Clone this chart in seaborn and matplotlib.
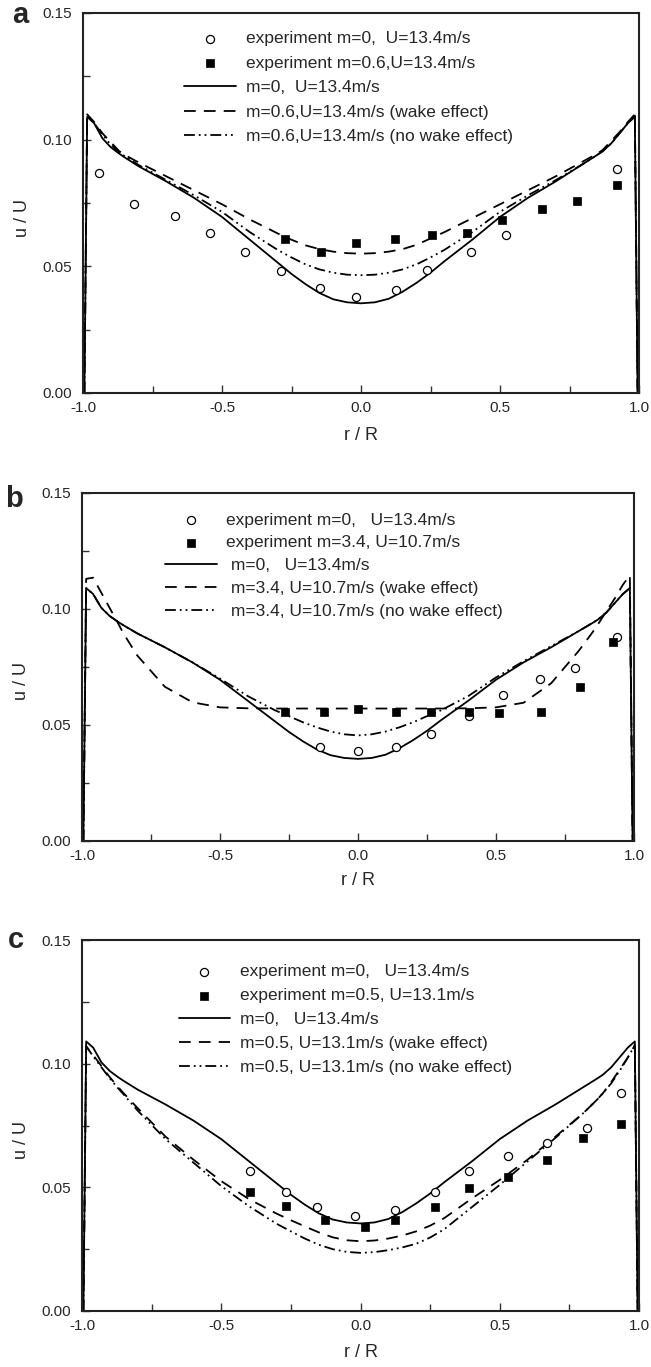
import matplotlib
matplotlib.use("Agg")
import matplotlib.pyplot as plt
import matplotlib.ticker as mtick
import seaborn as sns

# ── data ────────────────────────────────────────────────────────────────────

# common radial grid for the model curves (vertical drop at both walls)
r_line = [-0.995, -0.985, -0.96, -0.93, -0.90, -0.87, -0.85, -0.80, -0.70, -0.60,
          -0.50, -0.40, -0.30, -0.25, -0.20, -0.15, -0.10, -0.05, 0.00,
          0.05, 0.10, 0.15, 0.20, 0.25, 0.30, 0.40, 0.50, 0.60, 0.70,
          0.80, 0.85, 0.87, 0.90, 0.93, 0.96, 0.985, 0.995]

# m=0, U=13.4 m/s (same curve in all three panels)
m0_line = [0.0, 0.109, 0.1065, 0.1005, 0.097, 0.0945, 0.093, 0.0895, 0.0835, 0.077,
           0.0695, 0.0605, 0.0515, 0.047, 0.043, 0.0395, 0.037, 0.0358, 0.0354,
           0.0358, 0.0372, 0.040, 0.0435, 0.0475, 0.052, 0.0605, 0.0695, 0.077, 0.0835,
           0.0905, 0.094, 0.0955, 0.0985, 0.1025, 0.1065, 0.109, 0.0]

# panel a : m=0.6, U=13.4 m/s
a_wake = [0.0, 0.110, 0.107, 0.1025, 0.099, 0.0955, 0.094, 0.091, 0.0855, 0.080,
          0.0745, 0.0685, 0.063, 0.0605, 0.0583, 0.0568, 0.0558, 0.0552, 0.055,
          0.0552, 0.0558, 0.0568, 0.0585, 0.061, 0.0635, 0.069, 0.0745, 0.080, 0.0855,
          0.0915, 0.0945, 0.096, 0.0995, 0.103, 0.107, 0.110, 0.0]
a_nowake = [0.0, 0.1095, 0.1065, 0.102, 0.098, 0.095, 0.0935, 0.090, 0.084, 0.078,
            0.0715, 0.0635, 0.0565, 0.0535, 0.0508, 0.0488, 0.0475, 0.0467, 0.0465,
            0.0467, 0.0475, 0.0488, 0.0508, 0.0535, 0.0565, 0.0635, 0.0715, 0.078, 0.084,
            0.0905, 0.094, 0.0955, 0.0985, 0.1025, 0.1065, 0.1095, 0.0]
a_circ_r = [-0.942, -0.815, -0.669, -0.543, -0.416, -0.288, -0.147, -0.018,
            0.127, 0.236, 0.396, 0.523, 0.922]
a_circ_u = [0.0869, 0.0747, 0.0698, 0.0633, 0.0558, 0.0482, 0.0416, 0.0379,
            0.0407, 0.0484, 0.0558, 0.0625, 0.0886]
a_sq_r = [-0.274, -0.145, -0.018, 0.124, 0.254, 0.380, 0.508, 0.650, 0.777, 0.922]
a_sq_u = [0.0606, 0.0558, 0.0593, 0.0606, 0.0625, 0.0633, 0.0681, 0.0727, 0.0756, 0.0823]
a_labels = ["experiment m=0,  U=13.4m/s", "experiment m=0.6,U=13.4m/s",
            "m=0,  U=13.4m/s", "m=0.6,U=13.4m/s (wake effect)",
            "m=0.6,U=13.4m/s (no wake effect)"]

# panel b : m=3.4, U=10.7 m/s
b_wake = [0.0, 0.113, 0.1135, 0.107, 0.1005, 0.094, 0.0895, 0.080, 0.0665, 0.0598,
          0.0576, 0.0572, 0.0571, 0.0571, 0.0571, 0.0571, 0.0571, 0.0571, 0.0571,
          0.0571, 0.0571, 0.0571, 0.0571, 0.0571, 0.0571, 0.0572, 0.0576, 0.0596, 0.068,
          0.082, 0.090, 0.0935, 0.099, 0.1045, 0.1105, 0.1145, 0.0]
b_nowake = [0.0, 0.109, 0.1065, 0.1005, 0.097, 0.0945, 0.093, 0.0895, 0.0835, 0.077,
            0.070, 0.0625, 0.0563, 0.0538, 0.0512, 0.049, 0.0472, 0.046, 0.0455,
            0.046, 0.0472, 0.049, 0.0512, 0.0538, 0.0563, 0.0625, 0.0705, 0.0775, 0.084,
            0.0905, 0.094, 0.0955, 0.0985, 0.1025, 0.1065, 0.109, 0.0]
b_circ_r = [-0.137, 0.0, 0.138, 0.263, 0.401, 0.525, 0.661, 0.785, 0.940]
b_circ_u = [0.0407, 0.039, 0.0407, 0.0462, 0.0539, 0.0629, 0.070, 0.0745, 0.0879]
b_sq_r = [-0.263, -0.122, 0.0, 0.138, 0.263, 0.401, 0.510, 0.664, 0.803, 0.925]
b_sq_u = [0.0557, 0.0557, 0.0567, 0.0557, 0.0557, 0.0557, 0.055, 0.0557, 0.0664, 0.0857]
b_labels = ["experiment m=0,   U=13.4m/s", "experiment m=3.4, U=10.7m/s",
            " m=0,   U=13.4m/s", " m=3.4, U=10.7m/s (wake effect)",
            " m=3.4, U=10.7m/s (no wake effect)"]

# panel c : m=0.5, U=13.1 m/s
c_wake = [0.0, 0.107, 0.1035, 0.099, 0.0945, 0.0905, 0.088, 0.082, 0.0705, 0.0612,
          0.0525, 0.0452, 0.0393, 0.0367, 0.0342, 0.0318, 0.0298, 0.0286, 0.0282,
          0.0285, 0.0293, 0.0305, 0.0322, 0.0345, 0.0375, 0.0455, 0.053, 0.0612, 0.0705,
          0.080, 0.0855, 0.088, 0.0925, 0.0975, 0.1025, 0.1075, 0.0]
c_nowake = [0.0, 0.107, 0.103, 0.0985, 0.094, 0.090, 0.0875, 0.081, 0.0695, 0.060,
            0.0505, 0.0423, 0.0352, 0.0322, 0.0293, 0.0268, 0.025, 0.0239, 0.0235,
            0.0238, 0.0246, 0.0257, 0.0272, 0.0297, 0.033, 0.042, 0.051, 0.0605, 0.070,
            0.080, 0.0855, 0.088, 0.092, 0.097, 0.1025, 0.1075, 0.0]
c_circ_r = [-0.395, -0.268, -0.157, -0.018, 0.124, 0.266, 0.389, 0.531, 0.671, 0.813, 0.937]
c_circ_u = [0.0565, 0.048, 0.0419, 0.0386, 0.041, 0.048, 0.0565, 0.0628, 0.0679, 0.074, 0.0882]
c_sq_r = [-0.395, -0.268, -0.127, 0.015, 0.124, 0.266, 0.389, 0.531, 0.671, 0.798, 0.937]
c_sq_u = [0.048, 0.0426, 0.0366, 0.0339, 0.0366, 0.0419, 0.0498, 0.0541, 0.0612, 0.0699, 0.0756]
c_labels = ["experiment m=0,   U=13.4m/s", "experiment m=0.5, U=13.1m/s",
            "m=0,   U=13.4m/s", "m=0.5, U=13.1m/s (wake effect)",
            "m=0.5, U=13.1m/s (no wake effect)"]


# ── style ───────────────────────────────────────────────────────────────────

sns.set_style("ticks", {"xtick.direction": "in", "ytick.direction": "in"})
plt.rcParams["font.family"] = ["Liberation Sans", "DejaVu Sans"]
plt.rcParams["axes.unicode_minus"] = False

W, H = 651, 1367
LEG_FS = 12.5
fs_px = LEG_FS * 100 / 72

DASH = [6.5, 4.5]
DASHDOT = [6.0, 2.2, 1.0, 2.2, 1.0, 2.2]


def draw_panel(ax, wake, nowake, circ_r, circ_u, sq_r, sq_u, labels,
               leg_x, leg_y, row_px, hl_px, pad_px):
    sns.lineplot(x=r_line, y=m0_line, ax=ax, color="black", lw=1.3,
                 estimator=None, sort=False)
    l_solid = ax.lines[-1]
    sns.lineplot(x=r_line, y=wake, ax=ax, color="black", lw=1.3,
                 estimator=None, sort=False)
    l_wake = ax.lines[-1]
    l_wake.set_dashes(DASH)
    sns.lineplot(x=r_line, y=nowake, ax=ax, color="black", lw=1.3,
                 estimator=None, sort=False)
    l_nowake = ax.lines[-1]
    l_nowake.set_dashes(DASHDOT)

    sns.scatterplot(x=circ_r, y=circ_u, ax=ax, marker="o", s=34,
                    facecolor="white", edgecolor="black", linewidth=0.9, zorder=4)
    p_circ = ax.collections[-1]
    sns.scatterplot(x=sq_r, y=sq_u, ax=ax, marker="s", s=32,
                    color="black", edgecolor="black", linewidth=0.5, zorder=4)
    p_sq = ax.collections[-1]

    ax.set_xlim(-1.0, 1.0)
    ax.set_ylim(0.0, 0.15)
    ax.xaxis.set_major_locator(mtick.MultipleLocator(0.5))
    ax.xaxis.set_minor_locator(mtick.MultipleLocator(0.25))
    ax.yaxis.set_major_locator(mtick.MultipleLocator(0.05))
    ax.yaxis.set_minor_locator(mtick.MultipleLocator(0.025))
    ax.xaxis.set_major_formatter(mtick.FormatStrFormatter("%.1f"))
    ax.yaxis.set_major_formatter(mtick.FormatStrFormatter("%.2f"))
    ax.tick_params(which="both", direction="in", top=False, right=False,
                   width=1.0, color="#333333")
    ax.tick_params(which="major", length=6)
    ax.tick_params(which="minor", length=5)
    ax.tick_params(axis="x", labelsize=11, pad=6)
    ax.tick_params(axis="y", labelsize=11, pad=8)
    for s in ax.spines.values():
        s.set_visible(True)
        s.set_linewidth(1.5)
        s.set_color("#222222")

    ax.set_xlabel("r / R", fontsize=13)
    ax.set_ylabel("u / U", fontsize=13)
    ax.xaxis.set_label_coords(0.5, -0.09)
    ax.yaxis.set_label_coords(-0.094, 0.46)

    fs_h = 0.83 * fs_px
    ax.legend([p_circ, p_sq, l_solid, l_wake, l_nowake], labels,
              loc="upper left", bbox_to_anchor=(leg_x, leg_y), frameon=False,
              fontsize=LEG_FS, borderpad=0, borderaxespad=0, scatterpoints=1,
              handlelength=hl_px / fs_px, handletextpad=pad_px / fs_px,
              labelspacing=max(row_px - fs_h, 0) / fs_px)


fig = plt.figure(figsize=(W / 100, H / 100), dpi=100)

# axes boxes in pixels: left, top, right, bottom
boxes = [(83, 13, 639, 393), (82, 493, 634, 841), (82, 940, 639, 1311)]
axes = []
for l, t, r, b in boxes:
    axes.append(fig.add_axes([l / W, 1 - b / H, (r - l) / W, (b - t) / H]))

draw_panel(axes[0], a_wake, a_nowake, a_circ_r, a_circ_u, a_sq_r, a_sq_u, a_labels,
           0.182, 0.952, 23.7, 52, 10)
draw_panel(axes[1], b_wake, b_nowake, b_circ_r, b_circ_u, b_sq_r, b_sq_u, b_labels,
           0.151, 0.944, 22.0, 52, 9)
draw_panel(axes[2], c_wake, c_nowake, c_circ_r, c_circ_u, c_sq_r, c_sq_u, c_labels,
           0.174, 0.935, 23.2, 51, 10)

# panel letters
for letter, x, y in [("a", 12, 23), ("b", 5, 507), ("c", 8, 948)]:
    fig.text(x / W, 1 - y / H, letter, fontsize=21, fontweight="bold",
             va="baseline", ha="left")

fig.savefig("out.png", dpi=100)
